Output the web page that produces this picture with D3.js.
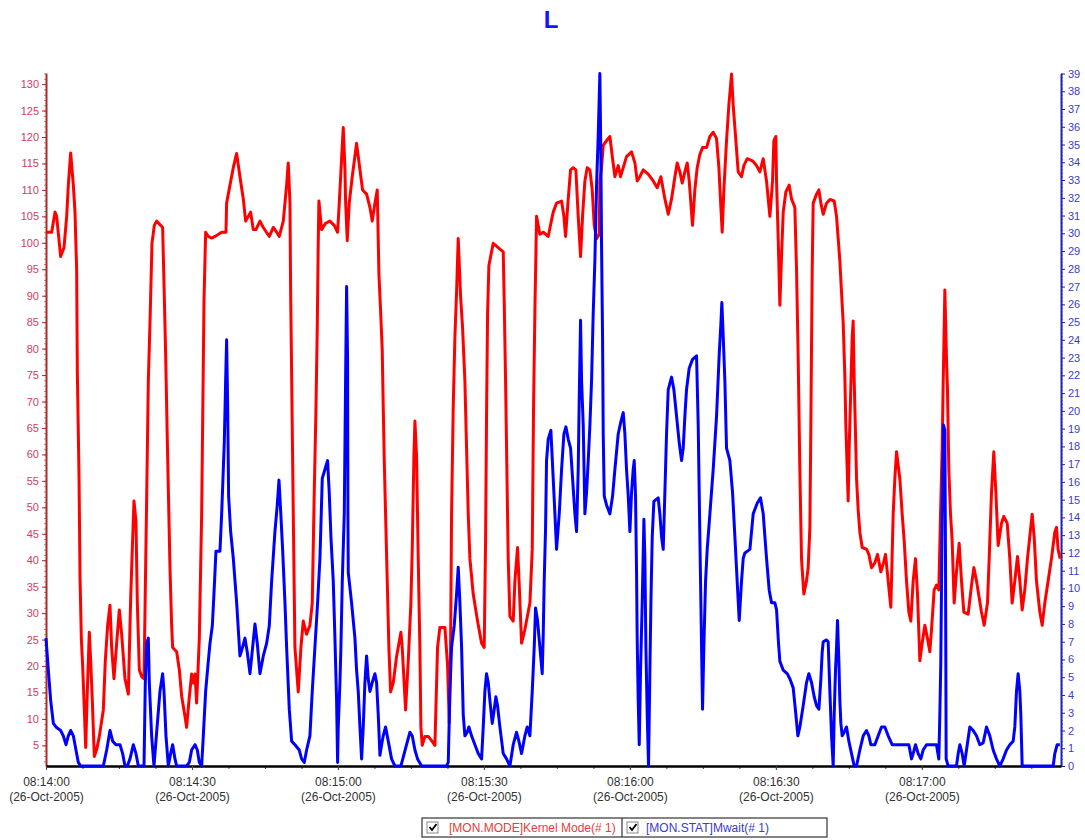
<!DOCTYPE html>
<html>
<head>
<meta charset="utf-8">
<script src="https://cdn.jsdelivr.net/npm/d3@7"></script>
<style>
  body { margin: 0; background: #fff; }
  text { font-family: Arial, "Liberation Sans", sans-serif; }
</style>
</head>
<body>
<script>
// Series samples: [seconds after 08:14:00, value]
const kernelMode = [
  [0,102.0],[1.17,102.0],[1.85,105.8],[2.19,105.0],[3.01,97.4],[3.70,99.1],[4.25,105.0],[4.59,110.9],
  [5.07,117.0],[5.62,110.9],[5.96,105.8],[6.30,94.9],[6.44,75.6],[6.78,56.3],[6.99,36.9],[7.26,25.2],
  [7.53,20.1],[7.88,11.7],[8.15,4.6],[8.49,15.1],[8.90,26.4],[9.18,21.0],[9.52,13.4],[9.93,2.9],
  [10.41,4.2],[10.96,6.7],[11.78,11.7],[12.19,21.0],[12.67,27.7],[13.15,31.5],[13.49,23.5],[13.97,17.6],
  [14.52,24.3],[15.07,30.6],[15.55,26.0],[16.23,17.6],[16.92,14.7],[17.40,32.7],[17.67,40.3],[18.08,51.2],
  [18.49,47.4],[18.77,31.9],[19.18,19.3],[19.66,18.0],[20.14,17.6],[20.41,34.4],[20.68,51.2],[21.03,73.9],
  [21.37,84.8],[21.78,99.9],[22.26,103.3],[22.74,104.1],[23.97,102.9],[24.25,92.4],[24.59,78.9],[25.00,59.6],
  [25.48,38.6],[25.82,27.7],[26.03,23.5],[26.85,22.7],[27.40,19.3],[27.88,14.3],[28.56,10.5],[28.90,8.4],
  [29.38,13.4],[29.93,18.5],[30.27,16.8],[30.62,18.5],[30.96,13.0],[31.51,25.2],[31.99,48.7],[32.19,65.5],
  [32.47,89.0],[32.81,102.0],[33.36,101.2],[34.04,100.9],[34.73,101.2],[36.10,102.0],[36.99,102.0],[37.12,107.5],
  [37.81,110.9],[38.49,114.2],[39.18,116.9],[39.86,112.5],[40.55,108.3],[41.03,104.1],[41.58,105.0],[42.05,105.8],
  [42.60,102.5],[43.15,102.5],[43.97,104.1],[44.66,102.9],[45.89,101.2],[46.71,102.9],[47.40,102.0],[47.94,101.2],
  [48.77,104.1],[49.45,110.9],[49.79,115.1],[50.14,107.5],[50.27,91.5],[50.82,48.7],[51.16,23.5],[51.84,15.1],
  [52.39,23.5],[52.87,28.5],[53.56,26.0],[54.24,27.7],[54.72,31.9],[55.13,52.9],[55.47,68.0],[55.75,84.0],
  [55.95,99.9],[56.09,107.9],[56.64,102.5],[57.46,103.7],[58.35,104.1],[59.24,103.3],[59.93,102.0],[60.27,107.5],
  [60.75,115.9],[61.09,121.8],[61.43,114.2],[61.57,107.9],[61.91,100.4],[62.32,107.5],[62.94,112.5],[63.83,118.8],
  [64.52,113.8],[65.06,110.0],[65.89,109.2],[66.57,106.7],[67.05,104.1],[67.60,107.5],[68.08,110.0],[68.42,94.1],
  [68.76,87.3],[69.10,79.8],[69.31,68.9],[69.52,58.8],[69.79,48.7],[70.13,36.1],[70.47,23.5],[70.82,15.1],
  [71.36,16.8],[72.05,21.8],[72.94,26.4],[73.21,23.5],[73.90,11.7],[74.45,21.0],[74.99,31.9],[75.27,42.0],
  [75.61,59.6],[75.82,66.3],[76.16,59.6],[76.50,40.3],[76.84,23.5],[77.05,8.4],[77.32,5.0],[77.87,6.7],
  [78.56,6.7],[79.24,5.9],[79.93,5.0],[80.47,23.5],[80.95,27.3],[81.98,27.3],[82.53,20.1],[82.87,9.2],
  [83.15,23.5],[83.35,48.7],[83.69,68.9],[84.04,82.3],[84.38,90.7],[84.72,100.8],[85.20,89.9],[85.61,84.0],
  [86.09,73.9],[86.43,61.3],[86.78,48.7],[87.12,40.3],[87.80,33.6],[88.69,28.5],[89.52,24.3],[90.06,23.5],
  [90.34,43.7],[90.54,67.2],[90.75,86.5],[91.02,95.7],[91.91,99.9],[92.94,99.1],[93.97,98.3],[94.17,89.0],
  [94.45,73.9],[94.72,57.1],[94.99,40.3],[95.34,29.4],[96.02,28.5],[96.37,36.1],[96.91,42.4],[97.26,35.3],
  [97.74,24.3],[98.42,26.9],[99.45,31.9],[99.93,42.0],[100.20,68.9],[100.48,87.3],[100.82,105.0],[101.50,101.6],
  [102.19,102.0],[103.21,101.2],[104.24,105.8],[104.93,107.5],[105.96,107.9],[106.44,105.0],[106.78,101.2],[107.33,108.3],
  [107.81,113.8],[108.35,114.2],[108.90,113.8],[109.38,105.0],[109.86,97.4],[110.27,105.0],[110.75,111.7],[111.23,114.2],
  [111.78,113.8],[112.26,110.0],[112.67,103.3],[113.15,100.8],[113.70,101.6],[113.83,111.7],[114.18,114.2],[114.52,118.4],
  [115.20,119.3],[115.89,120.1],[116.44,115.9],[116.92,112.5],[117.60,114.6],[118.08,112.5],[118.63,114.2],[119.31,116.3],
  [120.34,117.2],[121.03,115.1],[121.50,111.7],[122.05,112.5],[122.74,113.8],[123.77,113.0],[124.79,111.7],[125.61,110.4],
  [126.37,112.5],[127.19,108.3],[127.88,105.4],[128.56,108.3],[129.25,112.5],[129.72,115.1],[130.27,113.4],[130.75,111.3],
  [131.30,113.4],[131.78,115.1],[132.19,111.7],[132.53,107.5],[132.87,103.3],[133.35,110.0],[133.83,114.2],[134.38,116.7],
  [134.93,118.0],[135.75,118.0],[136.44,120.1],[137.12,120.9],[137.81,119.7],[138.29,114.2],[138.70,106.7],[138.97,102.0],
  [139.31,110.0],[139.86,119.3],[140.34,126.0],[140.89,131.9],[141.23,126.0],[141.78,119.3],[142.26,113.4],[142.94,112.5],
  [143.42,114.6],[144.11,115.9],[145.20,115.5],[146.03,114.6],[146.71,113.4],[147.40,115.9],[148.08,111.7],[148.77,105.0],
  [149.32,111.7],[149.59,119.3],[150.00,120.1],[150.14,111.7],[150.48,100.8],[150.82,88.2],[151.16,97.4],[151.51,105.8],
  [152.05,109.6],[152.74,110.9],[153.22,108.3],[153.90,106.7],[154.25,94.9],[154.59,78.1],[154.93,57.1],[155.27,40.3],
  [155.75,33.6],[156.30,36.1],[156.64,38.6],[156.99,46.2],[157.19,65.5],[157.33,80.6],[157.47,94.9],[157.67,107.5],
  [158.36,109.2],[158.84,110.0],[159.25,107.5],[159.73,105.4],[160.41,107.5],[161.10,108.2],[161.99,107.9],[162.47,105.0],
  [162.81,100.8],[163.15,96.6],[163.49,90.7],[163.84,84.8],[164.18,74.7],[164.38,65.5],[164.66,57.1],[164.86,51.2],
  [165.07,61.3],[165.34,70.5],[165.69,82.3],[165.89,85.2],[166.10,73.9],[166.37,63.8],[166.58,55.4],[166.92,49.5],
  [167.26,45.3],[167.74,42.4],[168.63,42.1],[169.11,41.1],[169.66,38.6],[170.34,39.5],[170.89,41.1],[171.58,37.8],
  [172.12,39.5],[172.54,41.1],[173.08,36.1],[173.63,31.1],[174.11,48.7],[174.45,55.4],[174.80,60.5],[175.48,55.4],
  [175.96,48.7],[176.37,43.7],[176.85,36.1],[177.33,30.2],[177.74,28.5],[178.22,36.1],[178.70,40.3],[179.11,33.6],
  [179.59,21.0],[180.07,24.3],[180.62,27.7],[181.16,25.2],[181.64,22.7],[181.99,26.9],[182.53,34.4],[183.01,35.3],
  [183.49,34.4],[183.84,48.7],[184.18,61.3],[184.38,73.1],[184.73,91.1],[185.07,78.1],[185.27,72.2],[185.55,57.1],
  [185.89,48.7],[186.23,43.7],[186.64,31.9],[187.12,37.8],[187.67,43.2],[188.15,36.1],[188.63,30.2],[189.52,29.8],
  [190.21,35.3],[190.69,38.6],[191.23,36.1],[192.26,30.2],[192.81,27.7],[193.49,31.9],[193.84,40.3],[194.32,52.9],
  [194.79,60.5],[195.21,52.9],[195.68,42.8],[196.37,47.0],[196.85,48.3],[197.54,47.0],[198.08,40.3],[198.56,31.9],
  [199.11,36.1],[199.66,40.7],[200.14,36.1],[200.62,30.6],[201.16,34.4],[201.71,40.3],[202.19,44.5],[202.67,48.7],
  [203.08,44.5],[203.56,36.1],[204.25,30.2],[204.73,27.7],[205.27,31.9],[205.96,36.1],[206.64,40.3],[207.33,45.3],
  [207.67,46.2],[208.01,42.0],[208.43,40.3]
];

const mwait = [
  [0,7.2],[0.48,5.4],[0.96,3.7],[1.51,2.4],[2.05,2.2],[3.01,2.0],[3.56,1.7],[4.11,1.2],[4.59,1.7],[5.07,2.0],
  [5.62,1.7],[6.16,0.9],[6.64,0.2],[7.12,0],[11.78,0],[12.47,0.9],[13.15,2.0],[13.70,1.4],[14.38,1.2],[15.21,1.2],
  [15.75,0.7],[16.23,0],[16.71,0],[17.26,0.4],[17.95,1.2],[18.49,0.7],[18.97,0],[20.14,0],[20.41,4.7],[20.68,6.9],
  [21.03,7.2],[21.23,4.7],[21.71,1.7],[22.19,0],[22.74,1.9],[23.42,4.2],[23.97,5.2],[24.25,4.2],[24.66,1.7],[25.14,0],
  [25.62,0.7],[26.03,1.2],[26.51,0.4],[26.85,0],[28.90,0],[29.45,0.2],[29.93,0.9],[30.62,1.2],[31.10,0.9],[31.51,0.2],
  [31.99,0],[32.33,1.7],[32.81,4.2],[33.36,5.9],[33.70,6.9],[34.18,7.9],[34.52,9.7],[34.93,12.1],[35.75,12.1],[36.10,14.2],
  [36.44,16.7],[36.64,18.2],[36.92,21.7],[37.12,24.0],[37.33,20.4],[37.53,15.2],[37.95,13.2],[38.49,11.7],[39.18,9.2],[39.86,6.2],
  [40.41,6.7],[40.89,7.2],[41.37,6.4],[41.92,5.2],[42.47,6.7],[42.95,8.0],[43.42,6.9],[43.97,5.2],[44.66,6.2],[45.34,6.9],
  [45.89,7.9],[46.37,10.4],[47.05,13.2],[47.53,14.7],[47.88,16.1],[48.22,14.4],[48.63,12.2],[49.11,9.2],[49.45,6.7],[50.00,3.2],
  [50.48,1.4],[51.16,1.2],[52.05,0.9],[52.53,0.4],[53.08,0.2],[53.56,0.9],[54.24,1.7],[54.72,4.2],[55.27,6.7],[55.82,9.2],
  [56.30,11.7],[56.78,16.2],[57.32,16.7],[57.87,17.2],[58.21,15.4],[58.56,12.9],[59.04,10.4],[59.38,7.2],[59.72,3.7],[59.93,0.2],
  [60.06,2.2],[60.41,4.7],[60.61,6.7],[60.89,10.4],[61.30,14.2],[61.57,21.7],[61.78,27.0],[61.98,22.9],[62.05,14.2],[62.12,10.9],
  [62.80,9.2],[63.49,7.2],[63.83,5.4],[64.17,4.2],[64.52,2.2],[64.86,0.4],[65.20,2.2],[65.54,4.7],[65.89,6.2],[66.23,4.9],
  [66.57,4.2],[67.05,4.7],[67.60,5.2],[67.94,4.7],[68.28,2.9],[68.63,0.6],[68.97,1.2],[69.31,1.7],[69.79,2.2],[70.34,1.4],
  [71.02,0.4],[71.71,0],[72.94,0],[74.10,1.2],[74.79,1.9],[75.27,1.7],[75.82,0.9],[76.36,0.4],[77.19,0],[82.32,0],
  [82.67,0.2],[83.01,4.2],[83.35,6.7],[83.90,7.9],[84.38,9.7],[84.72,11.2],[85.06,9.2],[85.41,6.7],[85.75,2.9],[86.09,1.7],
  [86.57,1.9],[86.91,2.2],[87.46,1.7],[88.15,1.2],[88.83,0.7],[89.52,0.4],[89.86,2.2],[90.20,4.2],[90.54,5.2],[90.89,4.7],
  [91.23,3.7],[91.71,2.4],[92.12,3.2],[92.46,3.9],[92.80,3.4],[93.28,2.2],[93.97,0.7],[94.65,0.4],[95.34,0],[96.02,1.2],
  [96.71,1.9],[97.19,1.4],[97.74,0.7],[98.42,1.7],[98.90,2.2],[99.45,1.7],[99.93,4.2],[100.34,6.7],[100.61,8.9],[101.02,8.2],
  [101.50,6.7],[101.98,5.2],[102.19,7.4],[102.39,10.4],[102.67,13.4],[102.87,17.2],[103.21,18.4],[103.76,18.9],[104.24,16.2],[104.59,14.2],
  [104.93,12.2],[105.48,14.2],[105.96,16.7],[106.44,18.7],[106.85,19.1],[107.33,18.4],[107.81,17.9],[108.22,16.2],[108.70,14.2],[109.04,13.2],
  [109.38,16.7],[109.59,20.7],[109.86,25.1],[110.07,21.7],[110.41,19.2],[110.75,14.2],[111.09,15.4],[111.44,17.2],[111.78,19.2],[112.12,21.7],
  [112.46,25.5],[112.81,28.5],[113.15,32.7],[113.49,35.5],[113.83,39.0],[114.04,34.2],[114.18,29.2],[114.38,24.2],[114.52,18.7],[114.73,15.2],
  [115.20,14.7],[115.89,14.2],[116.44,15.2],[116.92,16.7],[117.60,18.7],[118.15,19.4],[118.63,19.9],[118.97,18.7],[119.31,16.7],[119.66,15.2],
  [120.00,13.2],[120.34,15.4],[120.68,16.7],[120.89,17.2],[121.16,15.2],[121.37,10.9],[121.50,7.2],[121.71,3.7],[121.92,1.2],[122.19,5.4],
  [122.53,9.2],[122.88,13.9],[123.08,11.7],[123.29,6.7],[123.56,2.9],[123.83,0],[124.11,5.4],[124.32,9.2],[124.59,12.9],[124.93,14.9],
  [125.82,15.1],[126.16,14.2],[126.51,12.9],[126.85,12.2],[127.19,15.4],[127.53,18.7],[127.88,21.2],[128.56,21.9],[129.04,21.2],[129.59,19.7],
  [130.14,18.2],[130.62,17.2],[130.96,17.9],[131.30,19.7],[131.64,21.2],[132.19,22.4],[132.87,22.9],[133.70,23.1],[134.04,19.2],[134.38,12.9],
  [134.73,6.7],[134.93,3.2],[135.20,6.7],[135.55,10.4],[135.89,12.2],[136.44,14.2],[137.12,16.7],[137.81,19.7],[138.36,23.2],[138.70,24.9],
  [138.90,26.1],[139.18,24.2],[139.52,21.7],[139.86,17.9],[140.55,17.2],[141.10,15.4],[141.58,12.9],[142.05,10.4],[142.47,8.2],[142.94,10.4],
  [143.29,11.7],[143.63,12.0],[144.66,12.2],[145.34,14.2],[146.16,14.8],[146.85,15.1],[147.40,14.2],[148.08,11.7],[148.63,9.9],[149.11,9.2],
  [149.79,9.2],[150.14,8.8],[150.55,6.9],[150.82,5.9],[151.51,5.4],[152.33,5.2],[152.90,4.9],[153.56,4.4],[154.11,2.9],[154.52,1.7],
  [154.93,2.2],[155.62,3.4],[156.30,4.7],[156.78,5.2],[157.33,4.7],[157.88,3.9],[158.36,3.4],[158.84,3.2],[159.25,4.9],[159.52,6.4],
  [159.73,7.0],[160.41,7.1],[160.75,7.0],[161.10,4.2],[161.44,1.7],[161.78,0],[161.99,2.9],[162.26,5.4],[162.47,6.7],[162.67,8.2],
  [162.95,5.9],[163.15,3.7],[163.36,2.4],[163.63,1.7],[164.04,1.9],[164.52,2.2],[165.00,1.4],[165.55,0.7],[166.10,0],[166.58,0],
  [167.26,0.9],[167.95,1.7],[168.63,2.0],[169.11,1.7],[169.52,1.2],[170.34,1.2],[171.03,1.7],[171.71,2.2],[172.40,2.2],[173.08,1.7],
  [173.90,1.2],[177.33,1.2],[177.88,0.4],[178.22,0.7],[178.70,1.2],[179.25,0.7],[179.79,0.4],[180.27,0.9],[180.96,1.2],[183.01,1.2],
  [183.49,0.4],[183.70,2.9],[183.90,5.9],[184.18,14.2],[184.45,19.2],[184.73,18.9],[184.86,11.7],[185.00,0.4],[185.41,0],[187.12,0],
  [187.47,0.7],[187.81,1.2],[188.29,0.7],[188.70,0],[189.18,0.9],[189.86,2.2],[190.55,2.0],[191.23,1.7],[191.92,1.2],[192.60,1.3],
  [193.29,2.2],[193.97,1.7],[194.66,0.9],[195.34,0.4],[196.03,0],[196.71,0.4],[197.40,0.9],[198.08,1.2],[198.77,1.4],[199.11,2.2],
  [199.45,4.2],[199.79,5.2],[200.14,4.2],[200.34,2.9],[200.62,0],[206.99,0],[207.33,0.7],[207.81,1.2],[208.36,1.2]
];

const leftTicks = d3.range(5, 131, 5);
const rightTicks = d3.range(0, 40, 1);
const timeTicks = d3.range(0, 181, 30);
const dateLabel = "(26-Oct-2005)";
const seriesNames = ["[MON.MODE]Kernel Mode(# 1)", "[MON.STAT]Mwait(# 1)"];

const width = 1085, height = 840;
const margin = { top: 73, right: 24, bottom: 74, left: 46 };
const base = new Date(2005, 9, 26, 8, 14, 0);
const toDate = s => new Date(base.getTime() + s * 1000);

const svg = d3.select("body").append("svg")
  .attr("width", width)
  .attr("height", height);

const x = d3.scaleTime()
  .domain([base, toDate(208.6)])
  .range([margin.left, width - margin.right]);

const yL = d3.scaleLinear()
  .domain([1.1, 132.1])
  .range([height - margin.bottom, margin.top]);

const yR = d3.scaleLinear()
  .domain([0, 39])
  .range([height - margin.bottom, margin.top + 0.5]);

const redAxis = "#b02828", redText = "#d23c64";
const blueAxis = "#2222b0", blueText = "#3c3cd0";

// left axis (Kernel Mode)
svg.append("g")
  .attr("transform", `translate(${margin.left},0)`)
  .call(d3.axisLeft(yL).tickValues(d3.range(2, 133, 1)).tickSize(2).tickFormat(""))
  .call(g => g.select(".domain").remove())
  .call(g => g.selectAll("line").attr("stroke", redAxis).attr("opacity", 0.6));

svg.append("g")
  .attr("transform", `translate(${margin.left},0)`)
  .call(d3.axisLeft(yL).tickValues(leftTicks).tickSize(4).tickPadding(3).tickSizeOuter(0))
  .call(g => g.select(".domain").attr("stroke", redAxis).attr("stroke-width", 2))
  .call(g => g.selectAll("line").attr("stroke", redAxis))
  .call(g => g.selectAll("text").attr("fill", redText).attr("font-size", 11));

// right axis (Mwait)
svg.append("g")
  .attr("transform", `translate(${width - margin.right},0)`)
  .call(d3.axisRight(yR).tickValues(d3.range(0, 39.01, 0.2)).tickSize(2).tickFormat(""))
  .call(g => g.select(".domain").remove())
  .call(g => g.selectAll("line").attr("stroke", blueAxis).attr("opacity", 0.6));

svg.append("g")
  .attr("transform", `translate(${width - margin.right},0)`)
  .call(d3.axisRight(yR).tickValues(rightTicks).tickSize(4).tickPadding(3).tickSizeOuter(0))
  .call(g => g.select(".domain").attr("stroke", blueAxis).attr("stroke-width", 2))
  .call(g => g.selectAll("line").attr("stroke", blueAxis))
  .call(g => g.selectAll("text").attr("fill", blueText).attr("font-size", 11));

// bottom time axis
svg.append("g")
  .attr("transform", `translate(0,${height - margin.bottom})`)
  .call(d3.axisBottom(x).tickValues(d3.range(0, 208, 7.5).map(toDate)).tickSize(3).tickFormat(""))
  .call(g => g.select(".domain").remove())
  .call(g => g.selectAll("line").attr("stroke", "#444"));

const xAxis = svg.append("g")
  .attr("transform", `translate(0,${height - margin.bottom})`)
  .call(d3.axisBottom(x).tickValues(timeTicks.map(toDate)).tickSize(4).tickFormat("").tickSizeOuter(0))
  .call(g => g.select(".domain").attr("stroke", "#000").attr("stroke-width", 2.5))
  .call(g => g.selectAll("line").attr("stroke", "#444"));

xAxis.selectAll(".tick").append("text")
  .attr("fill", "#333")
  .attr("font-size", 12)
  .attr("text-anchor", "middle")
  .call(t => t.append("tspan").attr("x", 0).attr("y", 20).text(d => d3.timeFormat("%H:%M:%S")(d)))
  .call(t => t.append("tspan").attr("x", 0).attr("y", 35).text(dateLabel));

// lines
const redLine = d3.line()
  .x(d => x(toDate(d[0])))
  .y(d => yL(d[1]));

const blueLine = d3.line()
  .x(d => x(toDate(d[0])))
  .y(d => yR(d[1]));

svg.append("path")
  .datum(kernelMode)
  .attr("fill", "none")
  .attr("stroke", "#ff0000")
  .attr("stroke-width", 3)
  .attr("stroke-linejoin", "round")
  .attr("d", redLine);

svg.append("path")
  .datum(mwait)
  .attr("fill", "none")
  .attr("stroke", "#0000ff")
  .attr("stroke-width", 3)
  .attr("stroke-linejoin", "round")
  .attr("d", blueLine);

// title
svg.append("text")
  .attr("x", 551)
  .attr("y", 28)
  .attr("text-anchor", "middle")
  .attr("font-size", 24)
  .attr("font-weight", "bold")
  .attr("fill", "#1414ff")
  .text("L");

// legend
const legend = svg.append("g").attr("transform", "translate(422,818)");
legend.append("rect")
  .attr("width", 405).attr("height", 19)
  .attr("fill", "#fff").attr("stroke", "#333").attr("stroke-width", 1.2);
legend.append("line")
  .attr("x1", 200).attr("x2", 200).attr("y1", 0).attr("y2", 19)
  .attr("stroke", "#333").attr("stroke-width", 1.2);

const cells = [
  { x: 0, color: "#e83c3c", name: seriesNames[0] },
  { x: 200, color: "#3a3ad6", name: seriesNames[1] }
];
const cell = legend.selectAll(".cell").data(cells).enter().append("g")
  .attr("transform", d => `translate(${d.x},0)`);
cell.append("rect")
  .attr("x", 5).attr("y", 4).attr("width", 11).attr("height", 11)
  .attr("fill", "#fff").attr("stroke", "#888");
cell.append("path")
  .attr("d", "M7.5,9 L10,12 L14.5,6")
  .attr("fill", "none").attr("stroke", "#000").attr("stroke-width", 1.8);
cell.append("text")
  .attr("x", d => d.x === 0 ? 27 : 24)
  .attr("y", 14)
  .attr("font-size", 12)
  .attr("fill", d => d.color)
  .text(d => d.name);
</script>
</body>
</html>
